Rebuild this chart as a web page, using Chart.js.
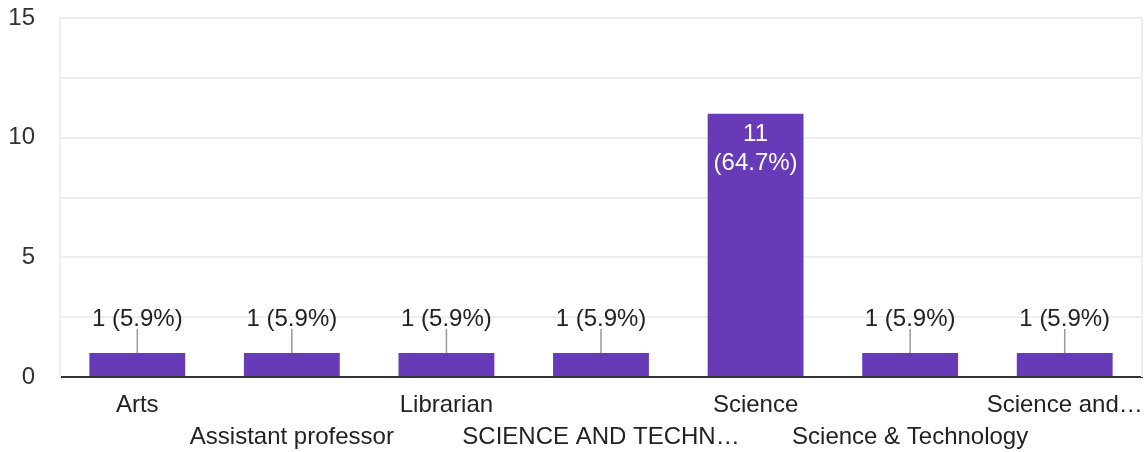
<!DOCTYPE html>
<html>
<head>
<meta charset="utf-8">
<script src="https://cdn.jsdelivr.net/npm/chart.js@4"></script>
<style>
  html, body { margin: 0; padding: 0; background: #fff; }
  #wrap { width: 1148px; height: 452px; }
</style>
</head>
<body>
<div id="wrap"><canvas id="chart"></canvas></div>
<script>
const categories = ['Arts', 'Assistant professor', 'Librarian', 'SCIENCE AND TECHN\u2026', 'Science', 'Science & Technology', 'Science and\u2026'];
const counts = [1, 1, 1, 1, 11, 1, 1];
const percents = ['5.9%', '5.9%', '5.9%', '5.9%', '64.7%', '5.9%', '5.9%'];
const yTicks = [0, 5, 10, 15];

const FONT = 'Arial, "Liberation Sans", sans-serif';
const FONT_SIZE = 24;

// draws the count (percent) labels, and the box line on the right of the plot
const barLabels = {
  id: 'barLabels',
  afterDatasetsDraw(chart) {
    const ctx = chart.ctx;
    const area = chart.chartArea;
    ctx.save();
    ctx.strokeStyle = '#eeeeee';
    ctx.lineWidth = 2;
    ctx.beginPath();
    ctx.moveTo(area.right, area.top);
    ctx.lineTo(area.right, area.bottom);
    ctx.stroke();

    ctx.font = FONT_SIZE + 'px ' + FONT;
    ctx.textAlign = 'center';
    ctx.textBaseline = 'middle';
    chart.getDatasetMeta(0).data.forEach((bar, i) => {
      const height = bar.base - bar.y;
      if (height > 80) {
        ctx.fillStyle = '#ffffff';
        ctx.fillText(String(counts[i]), bar.x, bar.y + 21);
        ctx.fillText('(' + percents[i] + ')', bar.x, bar.y + 50);
      } else {
        ctx.strokeStyle = '#999999';
        ctx.lineWidth = 1.5;
        ctx.beginPath();
        ctx.moveTo(bar.x, bar.y - 24);
        ctx.lineTo(bar.x, bar.y);
        ctx.stroke();
        ctx.fillStyle = '#222222';
        ctx.fillText(counts[i] + ' (' + percents[i] + ')', bar.x, bar.y - 34);
      }
    });
    ctx.restore();
  }
};

new Chart(document.getElementById('chart'), {
  type: 'bar',
  data: {
    labels: categories,
    datasets: [{
      data: counts,
      backgroundColor: '#673ab7',
      barPercentage: 0.62,
      categoryPercentage: 1.0
    }]
  },
  options: {
    responsive: true,
    maintainAspectRatio: false,
    animation: false,
    layout: { padding: { top: 18, right: 6, left: 0, bottom: 0 } },
    plugins: {
      legend: { display: false },
      tooltip: { enabled: false }
    },
    scales: {
      x: {
        afterFit: function (axis) {
          axis.height = 75;
          axis.paddingLeft = 0;
          axis.paddingRight = 0;
        },
        grid: { display: false },
        border: { color: '#333333', width: 2 },
        ticks: {
          color: '#222222',
          font: { family: FONT, size: FONT_SIZE, lineHeight: 1.35 },
          maxRotation: 0,
          autoSkip: false,
          padding: 4,
          callback: function (value, index) {
            return index % 2 === 0 ? [categories[index], ''] : ['', categories[index]];
          }
        }
      },
      y: {
        min: 0,
        max: 15,
        afterFit: function (axis) {
          axis.width = 60;
          axis.paddingTop = 0;
          axis.paddingBottom = 0;
        },
        afterBuildTicks: function (axis) {
          axis.ticks = [0, 2.5, 5, 7.5, 10, 12.5, 15].map(v => ({ value: v }));
        },
        grid: { color: '#eeeeee', lineWidth: 2, drawTicks: false },
        border: { color: '#eeeeee', width: 2 },
        ticks: {
          color: '#333333',
          font: { family: FONT, size: FONT_SIZE },
          padding: 25,
          callback: function (value) { return yTicks.includes(value) ? String(value) : ''; }
        }
      }
    }
  },
  plugins: [barLabels]
});
</script>
</body>
</html>
